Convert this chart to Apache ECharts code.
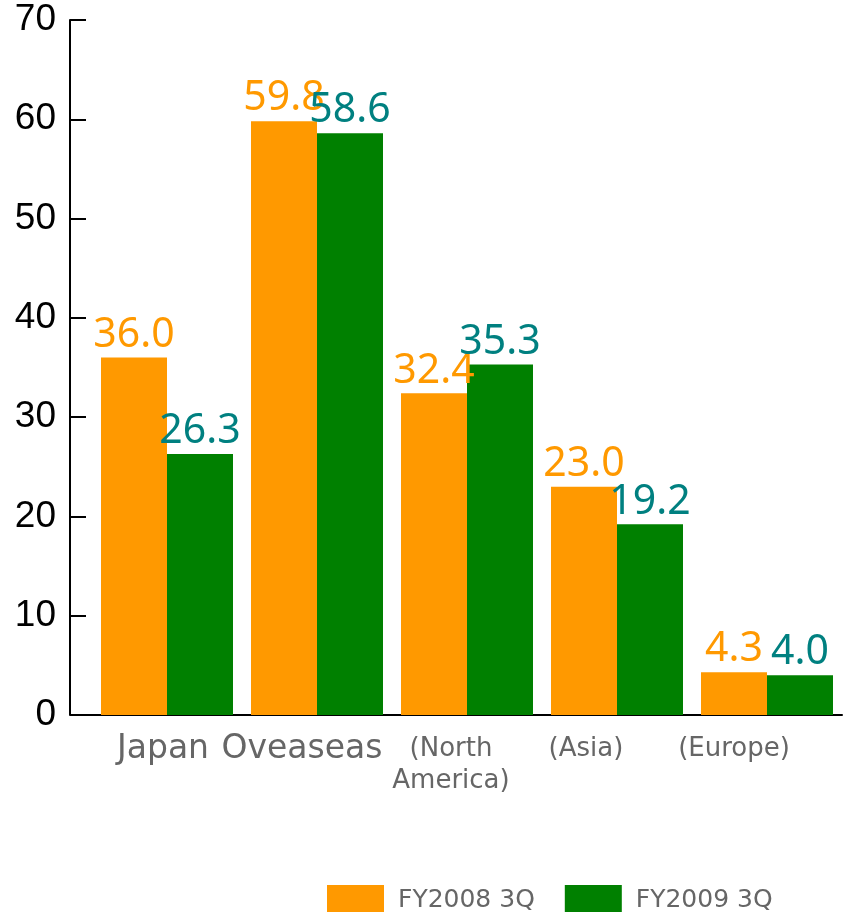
<!DOCTYPE html>
<html><head><meta charset="utf-8">
<script src="https://cdn.jsdelivr.net/npm/echarts@6/dist/echarts.min.js"></script>
<style>html,body{margin:0;padding:0;background:#fff}#c{width:860px;height:912px}</style>
</head><body><div id="c"></div>
<script>
const categories = ['Japan', 'Oveaseas', '(North\nAmerica)', '(Asia)', '(Europe)'];
const seriesNames = ['FY2008 3Q', 'FY2009 3Q'];
const fy2008 = [36.0, 59.8, 32.4, 23.0, 4.3];
const fy2009 = [26.3, 58.6, 35.3, 19.2, 4.0];
const yTicks = [0, 10, 20, 30, 40, 50, 60, 70];

const labelStyles = ['j', 'o', 'n', 'a', 'e'];
const chart = echarts.init(document.getElementById('c'));
const valLabel = (color) => ({
  show: true, position: 'top', distance: 2,
  fontFamily: 'Noto Sans', fontSize: 41, color: color,
  formatter: p => p.value.toFixed(1)
});
chart.setOption({
  animation: false,
  grid: { left: 92, right: 18, top: 20, bottom: 197 },
  legend: {
    left: 322, top: 880, itemWidth: 57, itemHeight: 31, itemGap: 30,
    icon: 'rect',
    textStyle: { fontFamily: 'DejaVu Sans', fontSize: 25, color: '#666', padding: [0, 0, 0, 9] },
    data: seriesNames
  },
  xAxis: {
    type: 'category', data: categories,
    axisLine: { lineStyle: { color: '#000', width: 2 } },
    axisTick: { show: false },
    axisLabel: {
      margin: 18, interval: 0, color: '#666', fontFamily: 'DejaVu Sans',
      formatter: (v, i) => v.split('\n').map(s => '{' + labelStyles[i] + '|' + s + '}').join('\n'),
      rich: {
        j: { fontSize: 33, fontFamily: 'DejaVu Sans', color: '#666', padding: [0, 8, 0, 0] },
        o: { fontSize: 33, fontFamily: 'DejaVu Sans', color: '#666', padding: [0, 30, 0, 0] },
        n: { fontSize: 26, fontFamily: 'DejaVu Sans', color: '#666', lineHeight: 32, padding: [0, 32, 0, 0] },
        a: { fontSize: 26, fontFamily: 'DejaVu Sans', color: '#666', lineHeight: 32, padding: [0, 62, 0, 0] },
        e: { fontSize: 26, fontFamily: 'DejaVu Sans', color: '#666', lineHeight: 32, padding: [0, 66, 0, 0] }
      }
    }
  },
  yAxis: {
    type: 'value', min: yTicks[0], max: yTicks[yTicks.length - 1], interval: 10,
    offset: 22,
    axisLine: { show: true, lineStyle: { color: '#000', width: 2 } },
    axisTick: { show: true, inside: true, length: 16, lineStyle: { color: '#000', width: 2 } },
    splitLine: { show: false },
    axisLabel: { margin: 14, fontFamily: 'Liberation Sans', fontSize: 37, color: '#000' }
  },
  graphic: [{
    type: 'line', shape: { x1: 70, y1: 715, x2: 93, y2: 715 },
    style: { stroke: '#000', lineWidth: 2 }
  }],
  series: [
    { name: seriesNames[0], type: 'bar', data: fy2008, barWidth: 66, barGap: '0%',
      itemStyle: { color: '#FF9900' }, label: valLabel('#FF9900') },
    { name: seriesNames[1], type: 'bar', data: fy2009, barWidth: 66,
      itemStyle: { color: '#008000' }, label: valLabel('#008080') }
  ]
});
</script></body></html>
